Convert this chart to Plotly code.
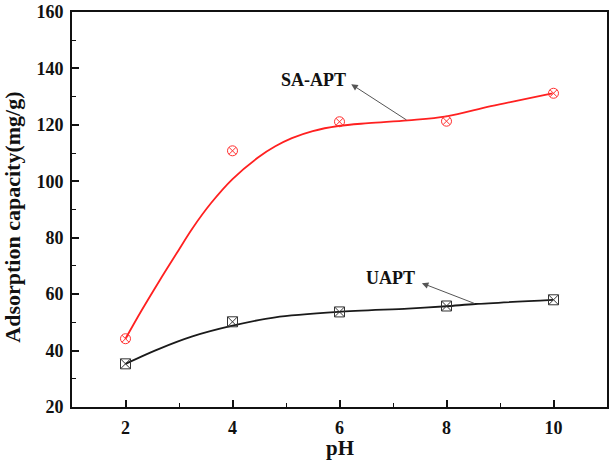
import plotly.graph_objects as go

# measured data
ph = [2, 4, 6, 8, 10]
sa_apt = [44.2, 110.8, 121.1, 121.3, 131.2]
uapt = [35.3, 50.2, 53.7, 55.8, 58.0]

# fitted curves
sa_fit_x = [2.0, 2.3, 2.63, 2.95, 3.25, 3.6, 4.0, 4.49, 4.8, 5.11, 5.5, 5.98, 6.54, 7.28, 8.0, 8.83, 9.98]
sa_fit_y = [44.2, 54.2, 64.6, 74.3, 83.3, 92.3, 100.8, 108.6, 112.4, 115.3, 117.8, 119.6, 120.6, 121.6, 123.0, 126.6, 131.2]
ua_fit_x = [2.0, 2.63, 3.25, 4.0, 4.8, 5.98, 7.28, 8.0, 8.54, 9.99]
ua_fit_y = [35.3, 40.6, 45.0, 48.8, 51.8, 53.7, 54.9, 55.7, 56.5, 58.0]

FONT = "Liberation Serif"

fig = go.Figure()
fig.add_trace(go.Scatter(x=sa_fit_x, y=sa_fit_y, mode="lines",
                         line=dict(color="#ff2020", width=1.8, shape="spline", smoothing=1.0),
                         showlegend=False, hoverinfo="skip"))
fig.add_trace(go.Scatter(x=ua_fit_x, y=ua_fit_y, mode="lines",
                         line=dict(color="#1a1a1a", width=1.8, shape="spline", smoothing=0.8),
                         showlegend=False, hoverinfo="skip"))
fig.add_trace(go.Scatter(x=ph, y=sa_apt, mode="markers", name="SA-APT",
                         marker=dict(symbol="circle-x-open", size=10,
                                     color="#ff3030", line=dict(width=1)),
                         showlegend=False))
fig.add_trace(go.Scatter(x=ph, y=uapt, mode="markers", name="UAPT",
                         marker=dict(symbol="square-x-open", size=10,
                                     color="#333333", line=dict(width=1)),
                         showlegend=False))

# arrows (head pointing at labels)
for (hx, hy, tx, ty) in [(6.22, 134.4, 7.28, 121.4), (7.54, 63.9, 8.55, 56.5)]:
    fig.add_annotation(x=hx, y=hy, ax=tx, ay=ty, xref="x", yref="y",
                       axref="x", ayref="y", text="", showarrow=True,
                       arrowhead=2, arrowsize=1.3, arrowwidth=1,
                       arrowcolor="#555555")

fig.add_annotation(x=5.52, y=135.8, text="<b>SA-APT</b>", showarrow=False,
                   font=dict(family=FONT, size=18, color="#111"))
fig.add_annotation(x=6.95, y=65.6, text="<b>UAPT</b>", showarrow=False,
                   font=dict(family=FONT, size=18, color="#111"))

# axis titles
fig.add_annotation(xref="paper", yref="paper", x=-0.1117, y=0.48,
                   text="<b>Adsorption capacity(mg/g)</b>", textangle=-90,
                   showarrow=False, xanchor="center", yanchor="middle",
                   font=dict(family=FONT, size=22, color="#111"))
fig.add_annotation(xref="paper", yref="paper", x=0.5, y=-0.105,
                   text="<b>pH</b>", showarrow=False, xanchor="center", yanchor="middle",
                   font=dict(family=FONT, size=21, color="#111"))

axis_common = dict(showline=True, linecolor="#111", linewidth=2, mirror=True,
                   ticks="inside", ticklen=7, tickwidth=1.5, tickcolor="#111",
                   showgrid=False, zeroline=False, ticklabeloverflow="allow",
                   tickfont=dict(family=FONT, size=18, color="#111"))

fig.update_xaxes(range=[1, 11], tickvals=ph, ticktext=["<b>%d</b>" % v for v in ph],
                 minor=dict(tickvals=[3, 5, 7, 9], ticks="inside", ticklen=4,
                            tickwidth=1.2, tickcolor="#111"),
                 ticklabelstandoff=3,
                 **axis_common)
yt = [20, 40, 60, 80, 100, 120, 140, 160]
fig.update_yaxes(range=[20, 160], tickvals=yt, ticktext=["<b>%d</b>" % v for v in yt],
                 minor=dict(tickvals=[30, 50, 70, 90, 110, 130, 150], ticks="inside",
                            ticklen=4, tickwidth=1.2, tickcolor="#111"),
                 ticklabelstandoff=3,
                 **axis_common)

fig.update_layout(width=611, height=463, margin=dict(l=72, r=2, t=8, b=56),
                  plot_bgcolor="white", paper_bgcolor="white")

fig.write_html("out.html", config={"displayModeBar": False})

# remove default page margin so the figure fills the window
with open("out.html", "r", encoding="utf-8") as f:
    html = f.read()
html = html.replace("<head>", "<head><style>html,body{margin:0;padding:0;overflow:hidden;}</style>", 1)
with open("out.html", "w", encoding="utf-8") as f:
    f.write(html)
